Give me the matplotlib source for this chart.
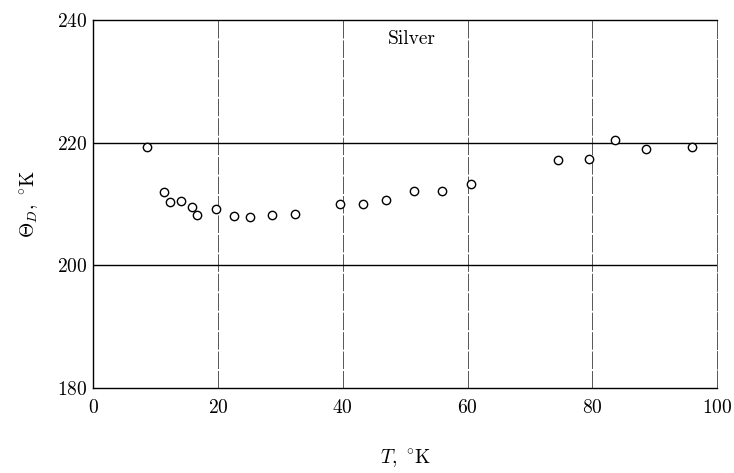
import matplotlib
matplotlib.use('Agg')
import matplotlib.pyplot as plt

# Debye temperature of silver vs temperature
T_K = [8.6, 11.4, 12.3, 14.1, 15.8, 16.7, 19.6, 22.5, 25.1, 28.6, 32.4,
       39.6, 43.3, 47.0, 51.4, 55.9, 60.5, 74.5, 79.4, 83.7, 88.6, 96.0]
theta_D = [219.3, 211.9, 210.3, 210.5, 209.5, 208.2, 209.1, 208.0, 207.9, 208.2, 208.3,
           210.0, 210.0, 210.6, 212.1, 212.1, 213.2, 217.2, 217.3, 220.4, 219.0, 219.3]

x_ticks = [0, 20, 40, 60, 80, 100]
y_ticks = [180, 200, 220, 240]
v_grid = [20, 40, 60, 80]
h_grid = [200, 220]

plt.rcParams['font.family'] = ['cmr10', 'DejaVu Serif']
plt.rcParams['mathtext.fontset'] = 'cm'
plt.rcParams['axes.formatter.use_mathtext'] = True

fig = plt.figure(figsize=(7.34, 4.73), dpi=100)
ax = fig.add_axes([0.127, 0.18, 0.85, 0.778])

# broken vertical rulings, solid horizontal ones (as in the printed figure)
for x in v_grid:
    ax.axvline(x, color='#555555', linewidth=0.7, linestyle=(0, (18, 2)), zorder=1)
for y in h_grid:
    ax.axhline(y, color='black', linewidth=1.0, zorder=1)

ax.plot(T_K, theta_D, 'o', markersize=6, markerfacecolor='white',
        markeredgecolor='black', markeredgewidth=1.0, zorder=3)

ax.set_xlim(0, 100)
ax.set_ylim(180, 240)
ax.set_xticks(x_ticks)
ax.set_yticks(y_ticks)
ax.tick_params(length=0, labelsize=14, pad=4)
ax.tick_params(axis='x', pad=8)

for side in ['left', 'top', 'bottom']:
    ax.spines[side].set_linewidth(1.0)
ax.spines['right'].set_linewidth(0.7)
ax.spines['right'].set_linestyle((0, (18, 2)))
ax.spines['right'].set_color('#555555')

ax.text(51, 236.8, 'Silver', fontsize=14, ha='center', va='center')

ax.set_xlabel(r'$T,\ ^{\circ}\mathrm{K}$', fontsize=14, labelpad=22)
ax.set_ylabel(r'$\Theta_D,\ ^{\circ}\mathrm{K}$', fontsize=14, labelpad=12)

fig.savefig('out.png', dpi=100)
